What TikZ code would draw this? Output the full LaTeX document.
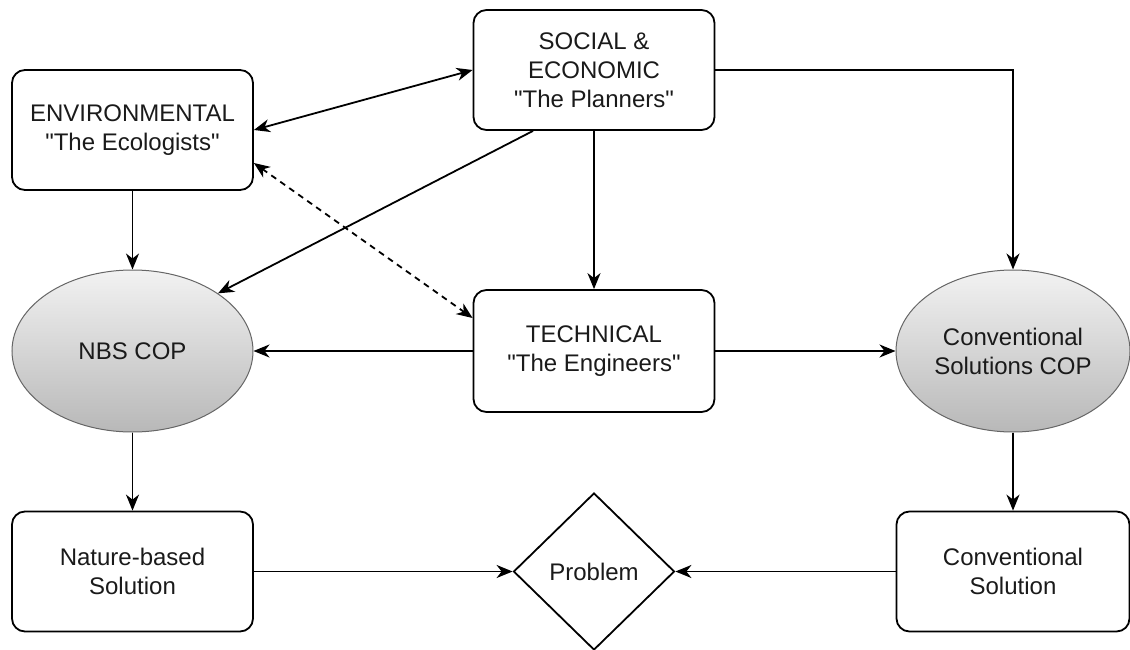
\documentclass[tikz,border=0pt]{standalone}
\usepackage{fontspec}
\setmainfont{Liberation Sans}
\usetikzlibrary{shapes.geometric,arrows.meta}
\definecolor{topgray}{HTML}{F2F2F2}
\definecolor{botgray}{HTML}{B8B8B8}
\definecolor{edgegray}{HTML}{666666}
\definecolor{txt}{HTML}{1A1A1A}
\newcommand{\qq}{\textquotedbl}
\begin{document}
\begin{tikzpicture}[x=1pt,y=-1pt,
  every node/.style={font=\fontsize{24}{29}\selectfont, text=txt, align=center, inner sep=0pt},
  rbox/.style={draw, rounded corners=13pt, line width=1.8pt, minimum width=241pt, minimum height=120pt},
  cop/.style={ellipse, draw=edgegray, line width=1pt, top color=topgray, bottom color=botgray, minimum width=241pt, minimum height=162pt},
  prob/.style={diamond, draw, line width=1.8pt, minimum width=161pt, minimum height=157pt},
  conn/.style={line width=1.8pt, -{Stealth[length=16pt,width=13pt,inset=5pt]}},
  bconn/.style={line width=1.8pt, {Stealth[length=16pt,width=13pt,inset=5pt]}-{Stealth[length=16pt,width=13pt,inset=5pt]}}
]
\useasboundingbox (0,0) rectangle (1130,650);
\node[rbox] (env) at (132.5,130) {ENVIRONMENTAL\\\qq The Ecologists\qq};
\node[rbox] (soc) at (594,70) {SOCIAL \&\\ECONOMIC\\\qq The Planners\qq};
\node[rbox, minimum height=122pt] (tech) at (594,351) {TECHNICAL\\\qq The Engineers\qq};
\node[cop] (nbs) at (132.5,351) {NBS COP};
\node[cop, minimum width=234pt] (ccop) at (1013,351) {Conventional\\Solutions COP};
\node[rbox] (nbsol) at (132.5,571.5) {Nature-based\\Solution};
\node[rbox, minimum width=233pt] (csol) at (1013,571.5) {Conventional\\Solution};
\node[prob] (problem) at (594,571.5) {Problem};

\draw[conn] (env.south) -- (nbs.north);
\draw[bconn] (env.east) -- (soc.west);
\draw[bconn, dashed, dash pattern=on 6pt off 5pt] ([yshift=-33pt]env.east) -- ([yshift=33pt]tech.west);
\draw[conn] ([xshift=-61pt]soc.south) -- (nbs.34);
\draw[conn] (soc.south) -- (tech.north);
\draw[conn] (tech.west) -- (nbs.east);
\draw[conn] (tech.east) -- (ccop.west);
\draw[conn] (soc.east) -| (ccop.north);
\draw[conn] (nbs.south) -- (nbsol.north);
\draw[conn] (ccop.south) -- (csol.north);
\draw[conn] (nbsol.east) -- (problem.west);
\draw[conn] (csol.west) -- (problem.east);
\end{tikzpicture}
\end{document}
